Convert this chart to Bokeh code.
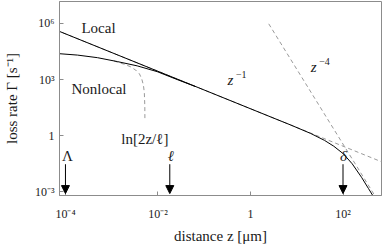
from bokeh.plotting import figure
from bokeh.models import Range1d, FixedTicker, Arrow, NormalHead, Label
from bokeh.embed import file_html
from bokeh.resources import INLINE

# ---------------- data ----------------
# full "Local" curve (solid): z in micrometres, loss rate in 1/s
local_z = [6.3e-5, 2.75, 7.41, 20.0, 39.8, 63.1, 102.0, 158.0, 251.0, 355.0, 501.0, 631.0]
local_rate = [4.37e5, 10.0, 3.72, 1.32, 0.562, 0.275, 0.107, 0.0316, 6.03e-3, 1.51e-3, 3.80e-4, 1.48e-4]

# "Nonlocal" curve (solid), merging into the local one
nonlocal_z = [7.0e-5, 1.82e-4, 4.90e-4, 1.32e-3, 3.56e-3, 9.62e-3, 2.59e-2, 6.3e-2]
nonlocal_rate = [2.42e4, 2.02e4, 1.47e4, 9.10e3, 5.36e3, 2.63e3, 1.0e3, 4.32e2]

# ln[2z/l] asymptote (dashed)
ln_z = [1.12e-3, 1.78e-3, 2.51e-3, 3.31e-3, 3.98e-3, 4.47e-3, 4.84e-3, 5.07e-3, 5.19e-3, 5.22e-3]
ln_rate = [9.77e3, 6.76e3, 4.90e3, 3.16e3, 2.0e3, 1.05e3, 501.0, 200.0, 39.8, 6.3]

# z^-1 and z^-4 asymptotes (dashed)
pow1_z = [6.3e-5, 800.0]
pow1_rate = [4.37e5, 0.0344]
pow4_z = [2.48, 631.0]
pow4_rate = [9.42e5, 2.24e-4]

# length scales marked by arrows
arrow_z = [1e-4, 1.8e-2, 100.0]
arrow_names = ["Λ", "ℓ", "δ"]
arrow_from = 0.030
arrow_to = 8.1e-4

x_ticks = [1e-4, 1e-2, 1.0, 1e2]
x_tick_labels = ["10⁻⁴", "10⁻²", "1", "10²"]
y_ticks = [1e-3, 1.0, 1e3, 1e6]
y_tick_labels = ["10⁻³", "1", "10³", "10⁶"]

# ---------------- figure ----------------
FONT = "Liberation Serif"
TXT = "#1a1a1a"
FRAME = "#8c8c8c"
DASH = "#9a9a9a"

p = figure(width=382, height=246, x_axis_type="log", y_axis_type="log",
           x_range=Range1d(10 ** -4.129, 10 ** 2.832),
           y_range=Range1d(10 ** -3.194, 10 ** 7.167),
           output_backend="svg", toolbar_location=None,
           min_border_left=58, min_border_right=1, min_border_top=1, min_border_bottom=47)
p.grid.visible = False
p.outline_line_color = FRAME
p.outline_line_width = 1

p.xaxis.ticker = FixedTicker(ticks=x_ticks, minor_ticks=[])
p.yaxis.ticker = FixedTicker(ticks=y_ticks, minor_ticks=[])
p.xaxis.major_label_overrides = dict(zip(x_ticks, x_tick_labels))
p.yaxis.major_label_overrides = dict(zip(y_ticks, y_tick_labels))
p.xaxis.axis_label = "distance z [μm]"
p.yaxis.axis_label = "loss rate Γ [s⁻¹]"

for ax in (p.xaxis[0], p.yaxis[0]):
    ax.major_tick_in = 4
    ax.major_tick_out = 0
    ax.minor_tick_in = 0
    ax.minor_tick_out = 0
    ax.axis_line_color = FRAME
    ax.major_tick_line_color = FRAME
    ax.major_label_text_font = FONT
    ax.major_label_text_font_size = "12px"
    ax.major_label_text_color = TXT
    ax.axis_label_text_font = FONT
    ax.axis_label_text_font_size = "15px"
    ax.axis_label_text_font_style = "normal"
    ax.axis_label_text_color = TXT

p.xaxis.major_label_standoff = 11
p.xaxis.axis_label_standoff = 4
p.yaxis.major_label_standoff = 5
p.yaxis.axis_label_standoff = 12

# dashed asymptotes
p.line(pow1_z, pow1_rate, line_color=DASH, line_width=1, line_dash="4 3")
p.line(pow4_z, pow4_rate, line_color=DASH, line_width=1, line_dash="4 3")
p.line(ln_z, ln_rate, line_color=DASH, line_width=1, line_dash="4 3")

# solid curves
p.line(nonlocal_z, nonlocal_rate, line_color="black", line_width=1)
p.line(local_z, local_rate, line_color="black", line_width=1)

# arrows
for z in arrow_z:
    p.add_layout(Arrow(end=NormalHead(size=8, fill_color="black", line_color="black"),
                       x_start=z, y_start=arrow_from, x_end=z, y_end=arrow_to,
                       line_color="black", line_width=1))

def lab(x, y, text, align="left", style="normal", size="15px"):
    p.add_layout(Label(x=x, y=y, text=text, text_font=FONT, text_font_size=size,
                       text_color=TXT, text_align=align, text_baseline="alphabetic",
                       text_font_style=style))

lab(2.21e-4, 6.0e5, "Local")
lab(1.35e-4, 305.0, "Nonlocal")
lab(0.318, 902.0, "z", style="italic")
lab(0.484, 1.85e3, "−1", size="10px")
lab(20.0, 4.58e3, "z", style="italic")
lab(30.5, 9.44e3, "−4", size="10px")
lab(1.61e-3, 0.653, "ln[2z/ℓ]")
lab(1.1e-4, 0.084, arrow_names[0], align="center")
lab(1.9e-2, 0.084, arrow_names[1], align="center", style="italic")
lab(102.0, 0.084, arrow_names[2], align="center", style="italic")

open("out.html", "w").write(file_html(p, INLINE))
